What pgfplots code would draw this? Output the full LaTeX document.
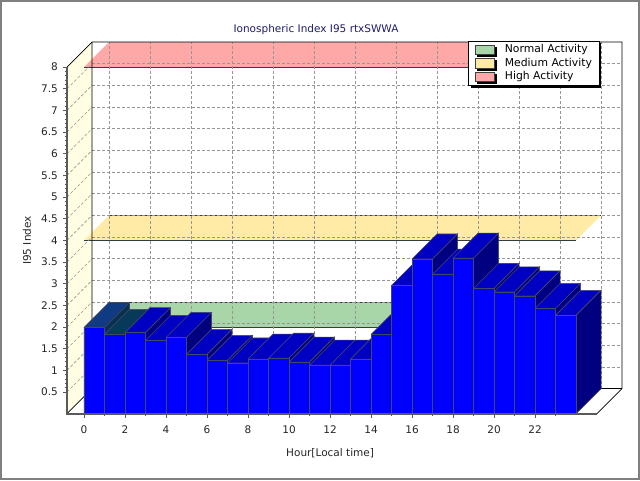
\documentclass[border=0pt]{standalone}
\usepackage{pgfplots}
\pgfplotsset{compat=1.18}
\usepackage{pgfplotstable}
\usepackage{fontspec}
\setmainfont{DejaVu Sans}
\usetikzlibrary{shadows}

\definecolor{wallyellow}{RGB}{255,254,226}
\definecolor{bandred}{RGB}{255,168,168}
\definecolor{bandyellow}{RGB}{255,235,165}
\definecolor{bandgreen}{RGB}{168,214,168}
\definecolor{bandedge}{RGB}{50,60,70}
\definecolor{gridgray}{RGB}{150,150,150}
\definecolor{barfront}{RGB}{0,0,255}
\definecolor{bartop}{RGB}{0,0,195}
\definecolor{barside}{RGB}{0,0,128}
\definecolor{baredge}{RGB}{70,70,100}
\definecolor{topA}{RGB}{16,58,130}
\definecolor{topB}{RGB}{6,58,88}
\definecolor{sideA}{RGB}{5,50,80}
\definecolor{titleblue}{RGB}{30,30,110}
\definecolor{axisgray}{RGB}{90,90,90}

\pgfplotstableread{
h v
0 1.99
1 1.83
2 1.87
3 1.69
4 1.76
5 1.37
6 1.23
7 1.17
8 1.26
9 1.28
10 1.19
11 1.12
12 1.12
13 1.26
14 1.83
15 2.96
16 3.57
17 3.22
18 3.59
19 2.89
20 2.81
21 2.72
22 2.43
23 2.27
}\bardata

\def\dx{1.22}
\def\dy{0.577}
\newcommand\lblfont{\fontsize{10.5}{12}\selectfont}
\newcommand\legfont{\fontsize{10.8}{12}\selectfont}

\begin{document}
\begin{tikzpicture}
\useasboundingbox (0,0) rectangle (640pt,480pt);
\fill[white] (0,0) rectangle (640pt,480pt);
\draw[gray, line width=2pt] (1pt,1pt) rectangle (639pt,479pt);
\begin{axis}[
  at={(67pt,66.3pt)}, anchor=south west,
  scale only axis, width=555pt, height=371.7pt,
  xmin=-0.829, xmax=26.24, ymin=0, ymax=8.577,
  clip=false,
  separate axis lines, axis line style={draw=none},
  tick pos=left, tick align=outside,
  xtick={0,2,...,22}, minor xtick={1,3,...,23},
  ytick={0.5,1,...,8}, minor y tick num=4,
  major tick length=4pt, minor tick length=2pt,
  tick style={axisgray, line width=0.6pt},
  /pgf/number format/assume math mode=true,
  tick label style={font=\lblfont, text=black!85},
  xticklabel style={anchor=center, inner sep=0pt, yshift=-11.6pt},
  yticklabel style={anchor=east, inner sep=0pt, xshift=-5pt},
  title={Ionospheric Index I95 rtxSWWA},
  title style={at={(axis description cs:0.4486,1.0376)}, anchor=center, yshift=-8pt, font=\lblfont, text=titleblue},
  xlabel={Hour[Local time]},
  xlabel style={at={(axis description cs:0.474,-0.1054)}, anchor=center, font=\lblfont, text=black!85},
  ylabel={I95 Index},
  ylabel style={at={(axis description cs:-0.072,0.466)}, anchor=center, font=\lblfont, text=black!85},
  legend style={at={(axis description cs:0.960,1.0027)}, anchor=north east, draw=black, line width=0.8pt, fill=white, font=\legfont,
    drop shadow={shadow xshift=2pt, shadow yshift=-2pt, fill=black, opacity=1},
    inner xsep=6pt, inner ysep=2pt, row sep=0pt,
    /tikz/every odd column/.append style={column sep=9pt},
    nodes={inner sep=1.5pt, text height=8pt, text depth=2.5pt}},
  legend cell align=left,
  legend image code/.code={\draw[#1, draw=black!75, line width=0.6pt] (0pt,-4.5pt) rectangle (19pt,5pt);},
]
% walls
\addplot[forget plot, fill=white, draw=none] coordinates {(0.391,0.577) (26.24,0.577) (26.24,8.577) (0.391,8.577) (0.391,0.577)};
\addplot[forget plot, fill=wallyellow, draw=none] coordinates {(-0.829,0) (0.391,0.577) (0.391,8.577) (-0.829,8) (-0.829,0)};

% activity bands
\addplot[forget plot, fill=bandgreen, draw=none] coordinates {(0,2) (24,2) (25.22,2.577) (1.22,2.577) (0,2)};
\addplot[forget plot, bandedge, line width=0.7pt] coordinates {(0,2) (24,2)};
\addplot[forget plot, bandedge, line width=0.7pt] coordinates {(1.22,2.577) (25.22,2.577)};
\addplot[forget plot, fill=bandyellow, draw=none] coordinates {(0,4) (24,4) (25.22,4.577) (1.22,4.577) (0,4)};
\addplot[forget plot, bandedge, line width=0.7pt] coordinates {(0,4) (24,4)};
\addplot[forget plot, bandedge, line width=0.7pt] coordinates {(1.22,4.577) (25.22,4.577)};
\addplot[forget plot, fill=bandred, draw=none] coordinates {(0,8) (24,8) (25.22,8.577) (1.22,8.577) (0,8)};
\addplot[forget plot, bandedge, line width=0.7pt] coordinates {(0,8) (24,8)};

% grid on back wall and left wall
\pgfplotsinvokeforeach{0.5,1,...,7.5}{%
  \pgfmathsetmacro\gy{#1+\dy}%
  \edef\doit{%
    \noexpand\addplot[forget plot, gridgray, line width=0.6pt, dash pattern=on 3pt off 2pt] coordinates {(0.391,\gy) (26.24,\gy)};%
    \noexpand\addplot[forget plot, gridgray, line width=0.6pt, dash pattern=on 3pt off 2pt] coordinates {(-0.829,#1) (0.391,\gy)};%
  }\doit
}
\pgfplotsinvokeforeach{0,2,...,24}{%
  \pgfmathsetmacro\gx{#1+\dx}%
  \edef\doit{%
    \noexpand\addplot[forget plot, gridgray, line width=0.6pt, dash pattern=on 3pt off 2pt] coordinates {(\gx,0.577) (\gx,8.577)};%
  }\doit
}

% wall outlines
\addplot[forget plot, black, line width=0.7pt] coordinates {(-0.829,8) (0.391,8.577) (26.24,8.577) (26.24,0.577) (25.02,0)};
\addplot[forget plot, black, line width=0.7pt] coordinates {(0.391,8.577) (0.391,0.577) (-0.829,0)};
\addplot[forget plot, black, line width=0.7pt] coordinates {(0.391,0.577) (26.24,0.577)};

% 3D bars
\pgfplotsinvokeforeach{0,...,23}{%
  \pgfplotstablegetelem{#1}{v}\of\bardata
  \pgfmathsetmacro\vv{\pgfplotsretval}%
  \pgfmathsetmacro\vt{\vv+\dy}%
  \pgfmathsetmacro\xb{#1+1}%
  \pgfmathsetmacro\xc{#1+1+\dx}%
  \pgfmathsetmacro\xd{#1+\dx}%
  \edef\tcol{\ifcase#1 topA\or topB\else bartop\fi}%
  \edef\scol{\ifcase#1 sideA\else barside\fi}%
  \edef\doit{%
    \noexpand\addplot[forget plot, fill=\tcol, draw=baredge, line width=0.6pt] coordinates {(#1,\vv) (\xb,\vv) (\xc,\vt) (\xd,\vt) (#1,\vv)};%
    \noexpand\addplot[forget plot, fill=\scol, draw=baredge, line width=0.6pt] coordinates {(\xb,0) (\xc,\dy) (\xc,\vt) (\xb,\vv) (\xb,0)};%
    \noexpand\addplot[forget plot, fill=barfront, draw=baredge, line width=0.6pt] coordinates {(#1,0) (\xb,0) (\xb,\vv) (#1,\vv) (#1,0)};%
  }\doit
}

% front edges
\addplot[forget plot, axisgray, line width=2.2pt] coordinates {(-0.829,8) (-0.829,0) (25.02,0)};

% legend
\addlegendimage{fill=bandgreen}
\addlegendentry{Normal Activity}
\addlegendimage{fill=bandyellow}
\addlegendentry{Medium Activity}
\addlegendimage{fill=bandred}
\addlegendentry{High Activity}
\end{axis}
\end{tikzpicture}
\end{document}
